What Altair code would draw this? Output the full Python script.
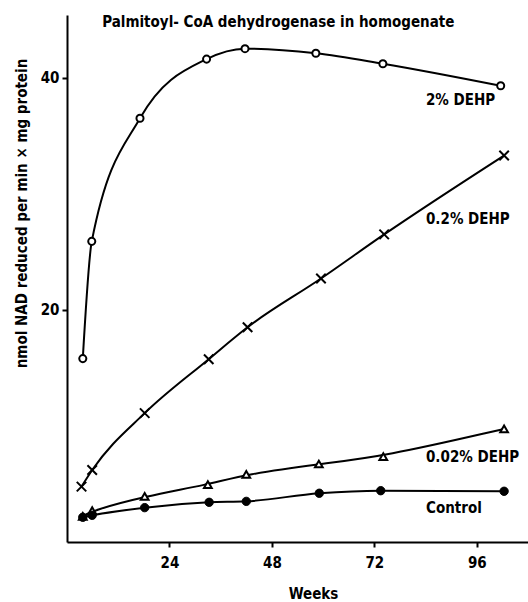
import altair as alt
import pandas as pd

# --- data ---
weeks_2 = [3.7, 5.8, 17.1, 32.7, 41.7, 58.3, 74.0, 101.6]
vals_2 = [15.8, 25.9, 36.5, 41.6, 42.5, 42.1, 41.2, 39.3]

weeks_02 = [3.4, 5.9, 18.2, 33.2, 42.3, 59.5, 74.3, 102.4]
vals_02 = [4.77, 6.2, 11.1, 15.75, 18.5, 22.7, 26.5, 33.3]

weeks_002 = [3.7, 5.9, 18.2, 33.0, 42.0, 59.0, 74.1, 102.4]
vals_002 = [2.2, 2.7, 3.93, 4.94, 5.83, 6.72, 7.35, 9.74]

weeks_ctrl = [3.7, 5.9, 18.2, 33.3, 42.0, 59.1, 73.5, 102.4]
vals_ctrl = [2.13, 2.3, 2.96, 3.42, 3.5, 4.2, 4.42, 4.37]

label_text = ["2% DEHP", "0.2% DEHP", "0.02% DEHP", "Control"]
label_week = [84.1, 84.1, 84.1, 84.1]
label_val = [38.1, 27.8, 7.35, 2.93]

title_text = ["Palmitoyl- CoA dehydrogenase in homogenate"]
title_week = [49.5]
title_val = [44.8]

FONT = "DejaVu Sans Condensed, Liberation Sans Narrow, DejaVu Sans"

def df(w, v):
    return pd.DataFrame({"week": w, "val": v})

X = alt.X("week:Q", scale=alt.Scale(domain=[0, 108], nice=False),
          axis=alt.Axis(values=[24, 48, 72, 96], title="Weeks", titleX=246, titleY=56,
                        titleBaseline="alphabetic", labelPadding=8))
Y = alt.Y("val:Q", scale=alt.Scale(domain=[0, 45.4], nice=False),
          axis=alt.Axis(values=[20, 40],
                        title="nmol NAD reduced per min × mg protein",
                        titleX=-38, titleY=198, labelPadding=3))

def line(d, interp):
    return alt.Chart(d).mark_line(color="black", strokeWidth=2, interpolate=interp).encode(x=X, y=Y)

d2, d02, d002, dc = df(weeks_2, vals_2), df(weeks_02, vals_02), df(weeks_002, vals_002), df(weeks_ctrl, vals_ctrl)

layers = [
    line(d2, "monotone"),
    line(d02, "monotone"),
    line(d002, "basis"),
    line(dc, "monotone"),
    alt.Chart(d2).mark_point(shape="circle", size=50, filled=True, fill="white",
                             stroke="black", strokeWidth=2, opacity=1).encode(x=X, y=Y),
    alt.Chart(d02).mark_point(shape="M-1,-1L1,1M-1,1L1,-1", size=90, filled=False,
                              stroke="black", strokeWidth=2, opacity=1).encode(x=X, y=Y),
    alt.Chart(d002).mark_point(shape="triangle-up", size=60, filled=True, fill="white",
                               stroke="black", strokeWidth=2, opacity=1).encode(x=X, y=Y),
    alt.Chart(dc).mark_point(shape="circle", size=70, filled=True, fill="black",
                             stroke="black", strokeWidth=1, opacity=1).encode(x=X, y=Y),
    alt.Chart(pd.DataFrame({"week": label_week, "val": label_val, "t": label_text}))
      .mark_text(align="left", baseline="middle", font=FONT, fontSize=15, fontWeight="bold")
      .encode(x=X, y=Y, text="t:N"),
    alt.Chart(pd.DataFrame({"week": title_week, "val": title_val, "t": title_text}))
      .mark_text(align="center", baseline="middle", font=FONT, fontSize=15, fontWeight="bold")
      .encode(x=X, y=Y, text="t:N"),
]

chart = alt.layer(*layers).properties(
    width=461, height=527,
    autosize=alt.AutoSizeParams(type="none"),
    padding={"left": 67, "top": 15, "right": 0, "bottom": 60},
).configure_view(stroke=None).configure_axis(
    domainColor="black", domainWidth=2, tickColor="black", tickWidth=2, tickSize=5,
    labelFont=FONT, labelFontSize=15, labelFontWeight="bold", labelColor="black",
    titleFont=FONT, titleFontSize=15, titleFontWeight="bold", titleColor="black",
    grid=False,
)

chart.save("out.html", embed_options={"renderer": "svg", "actions": False})
